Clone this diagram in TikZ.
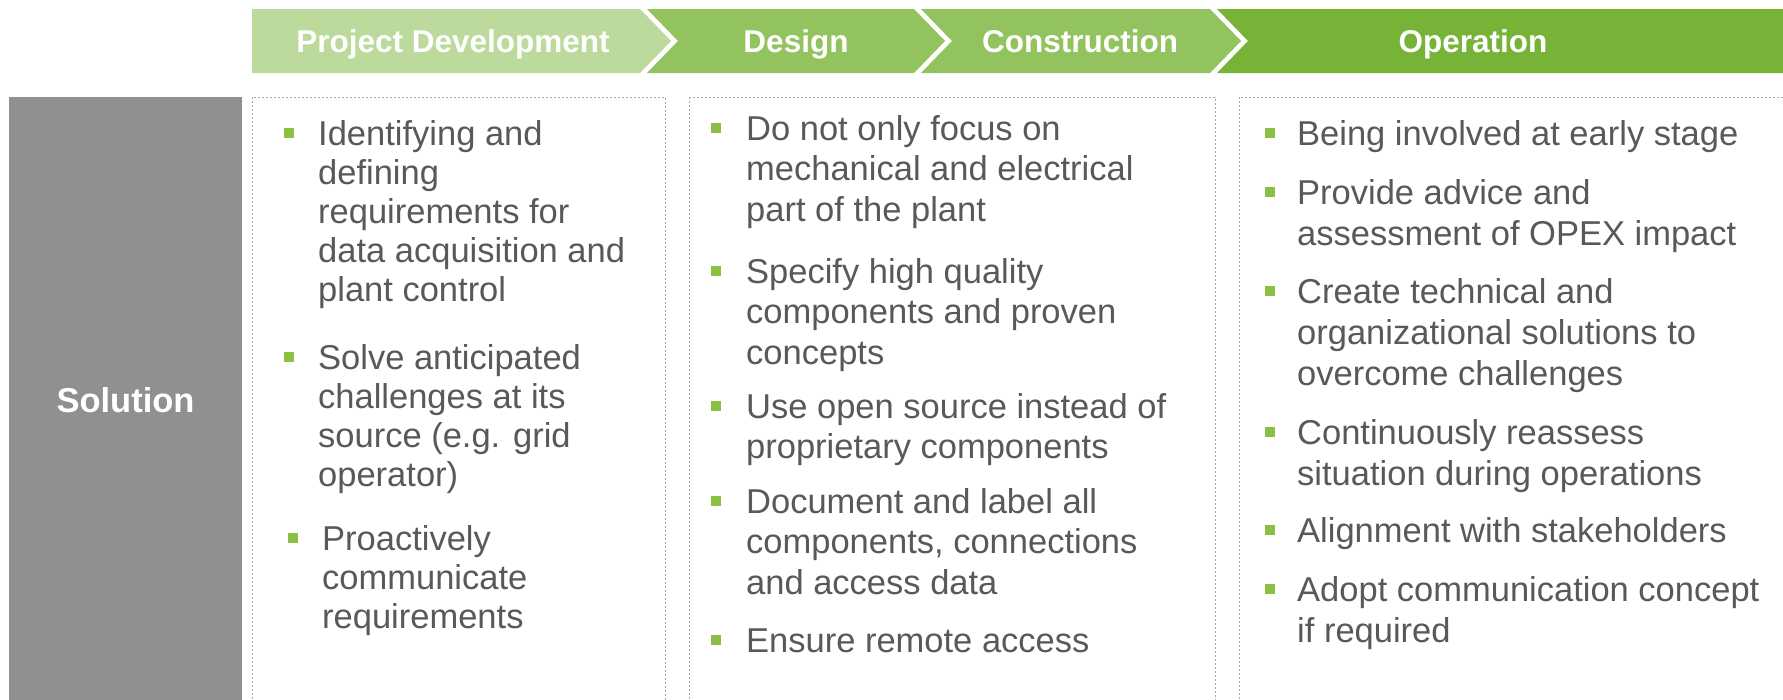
\documentclass[tikz,border=0pt]{standalone}
\usepackage{fontspec}
\setmainfont{Liberation Sans}
\definecolor{pdgreen}{HTML}{BBDA9B}
\definecolor{midgreen}{HTML}{92C35E}
\definecolor{opgreen}{HTML}{76B336}
\definecolor{solgray}{HTML}{909090}
\definecolor{bulgreen}{HTML}{8CC044}
\definecolor{txtgray}{HTML}{595959}
\definecolor{dashgray}{HTML}{A8A8A8}
\tikzset{
  hdrtext/.style={anchor=base, text=white, inner sep=0, font=\fontsize{31.5}{36}\selectfont\bfseries},
  colbox/.style={draw=dashgray, line width=1pt, dash pattern=on 2pt off 2pt},
  bul/.style={fill=bulgreen, minimum size=10.5pt, inner sep=0, draw=none},
  itmA/.style={anchor=base west, inner sep=0, text=txtgray, font=\fontsize{34.5}{39}\selectfont},
  itmB/.style={anchor=base west, inner sep=0, text=txtgray, font=\fontsize{34.5}{40.5}\selectfont},
  itmC/.style={anchor=base west, inner sep=0, text=txtgray, font=\fontsize{34.5}{41}\selectfont},
}
\newcommand{\lines}[1]{\parbox[t]{500pt}{\raggedright #1}}
\begin{document}
\begin{tikzpicture}[x=1pt,y=-1pt]
\clip (0,0) rectangle (1783,699);
\fill[white] (0,0) rectangle (1783,699);
% header chevrons
\fill[pdgreen] (252,9) -- (640,9) -- (671,41) -- (640,73) -- (252,73) -- cycle;
\fill[midgreen] (647,9) -- (914,9) -- (945,41) -- (914,73) -- (647,73) -- (678,41) -- cycle;
\fill[midgreen] (921,9) -- (1210,9) -- (1241,41) -- (1210,73) -- (921,73) -- (952,41) -- cycle;
\fill[opgreen] (1217,9) -- (1790,9) -- (1790,73) -- (1217,73) -- (1248,41) -- cycle;
\node[hdrtext] (hpd) at (453,52) {Project Development};
\node[hdrtext] (hde) at (796,52) {Design};
\node[hdrtext] (hco) at (1080,52) {Construction};
\node[hdrtext] (hop) at (1473,52) {Operation};
% solution box
\fill[solgray] (9,97) rectangle (242,710);
\node[anchor=base, text=white, inner sep=0, font=\fontsize{34.5}{40}\selectfont\bfseries] (sol) at (125.5,412) {Solution};
% column boxes
\draw[colbox] (252,97) rectangle (665,710);
\draw[colbox] (689,97) rectangle (1215,710);
\draw[colbox] (1239,97) rectangle (1800,710);
% column 1
\node[bul] (a1b) at (289,133) {};
\node[itmA] (a1) at (318,145) {\lines{Identifying and\\defining\\requirements for\\data acquisition and\\plant control}};
\node[bul] (a2b) at (289,357) {};
\node[itmA] (a2) at (318,369) {\lines{Solve anticipated\\challenges at its\\source (e.g. grid\\operator)}};
\node[bul] (a3b) at (293,538) {};
\node[itmA] (a3) at (322,550) {\lines{Proactively\\communicate\\requirements}};
% column 2
\node[bul] (b1b) at (716,128) {};
\node[itmB] (b1) at (746,140) {\lines{Do not only focus on\\mechanical and electrical\\part of the plant}};
\node[bul] (b2b) at (716,271) {};
\node[itmB] (b2) at (746,283) {\lines{Specify high quality\\components and proven\\concepts}};
\node[bul] (b3b) at (716,406) {};
\node[itmB] (b3) at (746,418) {\lines{Use open source instead of\\proprietary components}};
\node[bul] (b4b) at (716,501) {};
\node[itmB] (b4) at (746,513) {\lines{Document and label all\\components, connections\\and access data}};
\node[bul] (b5b) at (716,640) {};
\node[itmB] (b5) at (746,652) {\lines{Ensure remote access}};
% column 3
\node[bul] (c1b) at (1270,133) {};
\node[itmC] (c1) at (1297,145) {\lines{Being involved at early stage}};
\node[bul] (c2b) at (1270,192) {};
\node[itmC] (c2) at (1297,204) {\lines{Provide advice and\\assessment of OPEX impact}};
\node[bul] (c3b) at (1270,291) {};
\node[itmC] (c3) at (1297,303) {\lines{Create technical and\\organizational solutions to\\overcome challenges}};
\node[bul] (c4b) at (1270,432) {};
\node[itmC] (c4) at (1297,444) {\lines{Continuously reassess\\situation during operations}};
\node[bul] (c5b) at (1270,530) {};
\node[itmC] (c5) at (1297,542) {\lines{Alignment with stakeholders}};
\node[bul] (c6b) at (1270,589) {};
\node[itmC] (c6) at (1297,601) {\lines{Adopt communication concept\\if required}};
\end{tikzpicture}
\end{document}
